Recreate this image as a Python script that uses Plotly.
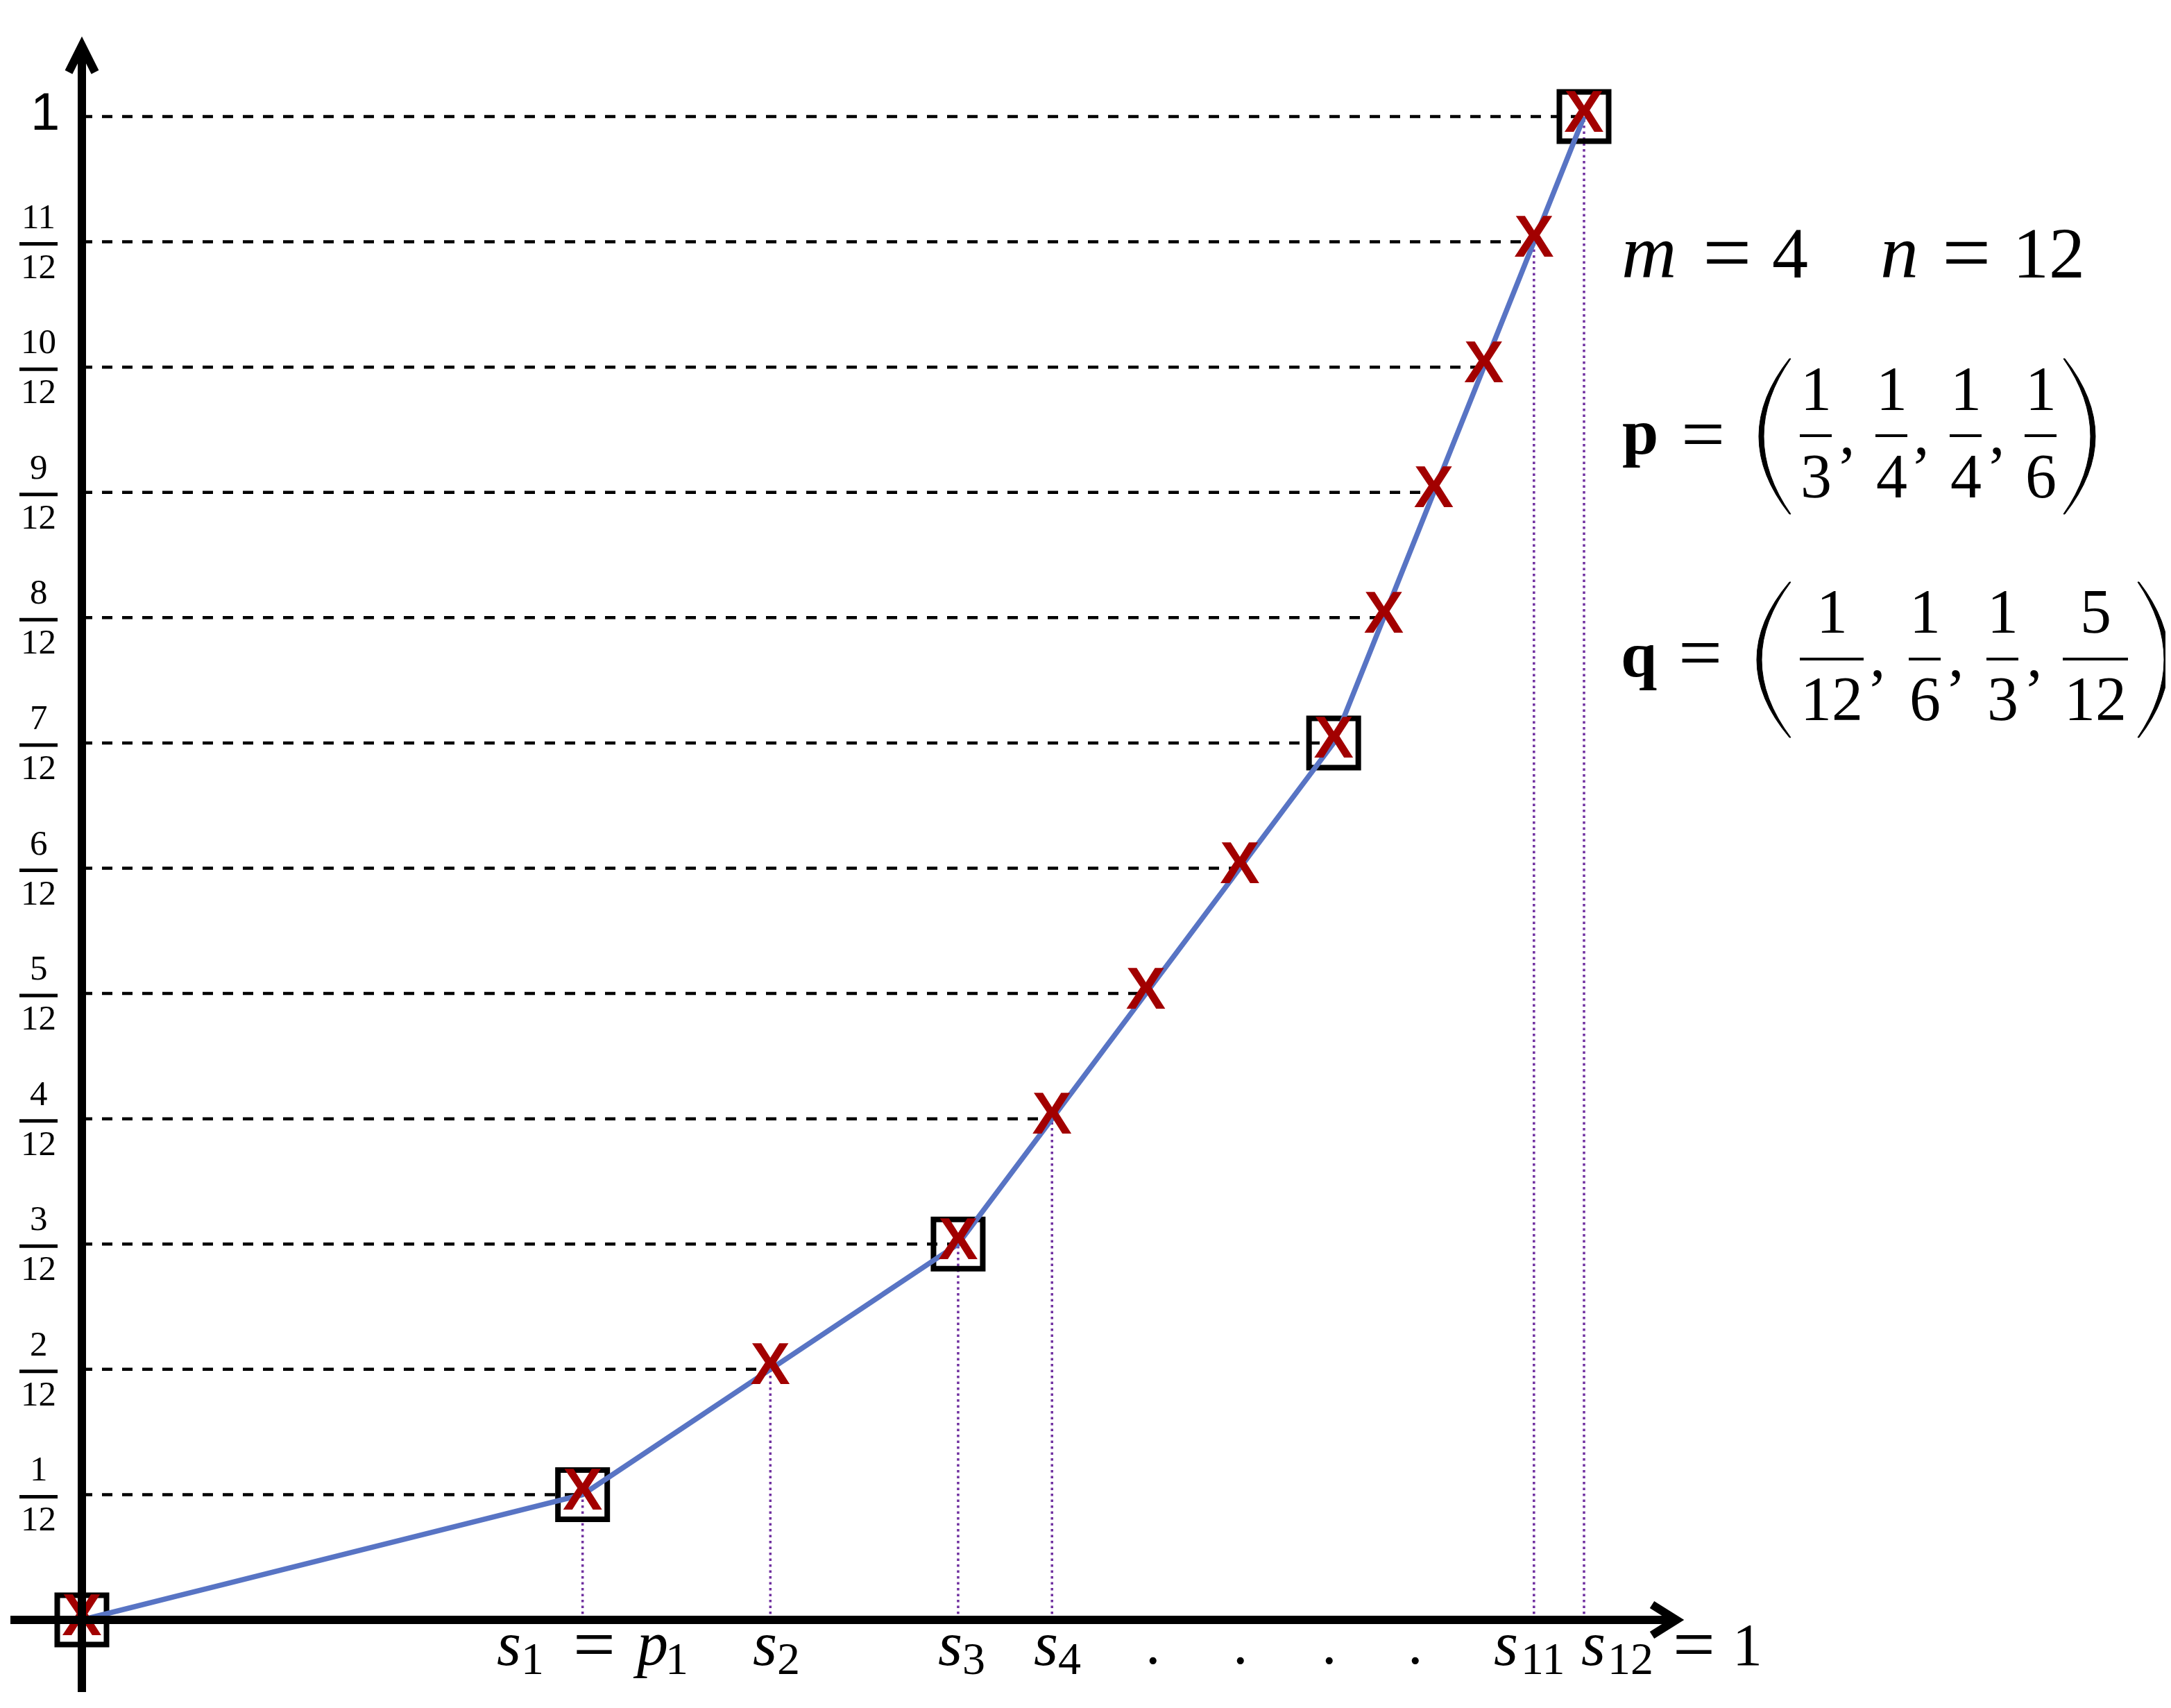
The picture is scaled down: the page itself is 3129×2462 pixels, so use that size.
import plotly.graph_objects as go

# ---------------- data ----------------
break_x = [0, 1/3, 7/12, 5/6, 1]          # cumulative p
break_y = [0, 1/12, 3/12, 7/12, 1]        # cumulative q
levels = [0, 1/12, 2/12, 3/12, 4/12, 5/12, 6/12, 7/12, 8/12, 9/12, 10/12, 11/12, 1]
s_vals = [0, 1/3, 11/24, 7/12, 31/48, 17/24, 37/48, 5/6, 13/15, 9/10, 14/15, 29/30, 1]
dotted_idx = [1, 2, 3, 4, 11, 12]
ytick_num = ["1", "2", "3", "4", "5", "6", "7", "8", "9", "10", "11"]
ytick_den = "12"
ytick_top = "1"
x_label_sub = ["1", "2", "3", "4", "11", "12"]
p_num = ["1", "1", "1", "1"]
p_den = ["3", "4", "4", "6"]
q_num = ["1", "1", "1", "5"]
q_den = ["12", "6", "3", "12"]
m_val, n_val = "4", "12"

# ---------------- pixel mapping (screen pixels of the reference) ----------------
OFF = 8                 # page body margin
WF, HF = 3129 - OFF, 2462 - OFF
X0, SX = 118, 2165      # x=0 -> px 118, 1 unit = 2165 px
Y0, SY = 2335, 2167     # y=0 -> py 2335, 1 unit = 2167 px
def dx(px): return (px - X0) / SX
def dy(py): return (Y0 - py) / SY
def py(y): return Y0 - SY * y

BLUE = "#5874C4"
RED = "#A20000"
PURPLE = "#7030A0"
SERIF = "Liberation Serif"

fig = go.Figure()

# dashed horizontal guides
hx, hy = [], []
for k in range(1, 13):
    hx += [0, s_vals[k], None]
    hy += [levels[k], levels[k], None]
fig.add_trace(go.Scatter(x=hx, y=hy, mode="lines",
                         line=dict(color="black", width=4.5, dash="15px,14px"),
                         hoverinfo="skip"))

# dotted verticals
vx, vy = [], []
for k in dotted_idx:
    vx += [s_vals[k], s_vals[k], None]
    vy += [0, levels[k], None]
fig.add_trace(go.Scatter(x=vx, y=vy, mode="lines",
                         line=dict(color=PURPLE, width=3.5, dash="3.5px,5px"),
                         hoverinfo="skip"))

# boxes at breakpoints
fig.add_trace(go.Scatter(x=break_x, y=break_y, mode="markers",
                         marker=dict(symbol="square-open", size=71, color="black",
                                     line=dict(width=8, color="black")),
                         hoverinfo="skip"))

# curve
fig.add_trace(go.Scatter(x=break_x, y=break_y, mode="lines",
                         line=dict(color=BLUE, width=7.5), hoverinfo="skip"))

# X marks
fig.add_trace(go.Scatter(x=s_vals, y=levels, mode="text", text=["X"] * len(s_vals),
                         textposition="middle center",
                         textfont=dict(family="Liberation Sans", size=86, color=RED, weight="bold"),
                         hoverinfo="skip"))

shapes = []
annotations = []

def line_shape(x0, y0, x1, y1, w, color="black"):
    shapes.append(dict(type="line", xref="x", yref="y", x0=x0, y0=y0, x1=x1, y1=y1,
                       line=dict(color=color, width=w)))

def path_shape(pts, w):
    d = "M " + " L ".join(f"{dx(a):.5f},{dy(b):.5f}" for a, b in pts)
    shapes.append(dict(type="path", xref="x", yref="y", path=d,
                       line=dict(color="black", width=w)))

def txt(s, cx, cy, size, family=SERIF, style="normal", weight="normal"):
    annotations.append(dict(text=s, x=dx(cx), y=dy(cy), xref="x", yref="y",
                            showarrow=False, xanchor="center", yanchor="middle",
                            borderpad=0,
                            font=dict(size=size, family=family, color="black",
                                      style=style, weight=weight)))

def base_txt(s, cx, baseline, size, **kw):
    # place text so that its baseline sits at the given pixel row
    txt(s, cx, baseline - 0.3375 * size, size, **kw)

def eq_txt(cx, glyph_c, size):
    txt("=", cx, glyph_c - 0.0725 * size, size)

# axes
line_shape(0, dy(2439), 0, dy(78), 12)
path_shape([(99, 104), (118, 66), (137, 104)], 12)
line_shape(dx(15), 0, dx(2412), 0, 12)
path_shape([(2381, 2313), (2416, 2335), (2381, 2357)], 12)

# y tick labels (fractions)
for i, num in enumerate(ytick_num):
    k = i + 1
    bar = py(levels[k]) + 3
    shapes.append(dict(type="line", xref="x", yref="y", x0=dx(28), x1=dx(83),
                       y0=dy(bar), y1=dy(bar), line=dict(color="black", width=5)))
    txt(num, 55.5, bar - 40, 51)
    txt(ytick_den, 55.5, bar + 32, 51)
txt(ytick_top, 65, 160, 76, family="Liberation Sans")

# x labels: italic s with upright subscript
S_BASE, SUB_BASE = 2400, 2413
s_centers = [733, 1102, 1369, 1507, 2170, 2296]
sub_centers = [767, 1136, 1403, 1541, 2224, 2350]
for sub, sc, bc in zip(x_label_sub, s_centers, sub_centers):
    base_txt("s", sc, S_BASE, 90, style="italic")
    base_txt(sub, bc, SUB_BASE, 66)
# "= p1"
eq_txt(856, 2377, 108)
base_txt("p", 937, S_BASE, 90, style="italic")
base_txt(x_label_sub[0], 975, SUB_BASE, 66)
# "= 1"
eq_txt(2441, 2377, 108)
base_txt("1", 2518, S_BASE, 86)
# dots
for cx in [1662, 1788, 1916, 2040]:
    base_txt(".", cx, 2398, 86)

# m = 4   n = 12
base_txt("m", 2376, 400, 110, style="italic")
eq_txt(2489, 373, 125)
base_txt(m_val, 2580, 400, 104)
base_txt("n", 2737, 400, 110, style="italic")
eq_txt(2834, 373, 125)
base_txt(n_val, 2953, 400, 104)

def paren(x_end, x_ext, y_top, y_bot, thick=7, end=2):
    sgn = 1 if x_ext < x_end else -1
    ym = (y_top + y_bot) / 2
    c_out = 2 * x_ext - x_end
    xe_in = x_end + sgn * end
    c_in = 2 * (x_ext + sgn * thick) - xe_in
    d = (f"M {dx(x_end):.5f},{dy(y_top):.5f} "
         f"Q {dx(c_out):.5f},{dy(ym):.5f} {dx(x_end):.5f},{dy(y_bot):.5f} "
         f"L {dx(xe_in):.5f},{dy(y_bot):.5f} "
         f"Q {dx(c_in):.5f},{dy(ym):.5f} {dx(xe_in):.5f},{dy(y_top):.5f} Z")
    shapes.append(dict(type="path", xref="x", yref="y", path=d, fillcolor="black",
                       line=dict(color="black", width=1)))

def vector_row(name, name_cx, eq_cx, eq_c, baseline, nums, dens, centers, halfw,
               num_c, den_c, bar_y, commas, lp, rp):
    base_txt(name, name_cx, baseline, 94, weight="bold")
    eq_txt(eq_cx, eq_c, 112)
    for n_, d_, c, hw in zip(nums, dens, centers, halfw):
        txt(n_, c, num_c, 90)
        txt(d_, c, den_c, 90)
        shapes.append(dict(type="line", xref="x", yref="y", x0=dx(c - hw), x1=dx(c + hw),
                           y0=dy(bar_y), y1=dy(bar_y), line=dict(color="black", width=4)))
    for c in commas:
        base_txt(",", c, baseline, 90)
    paren(*lp)
    paren(*rp)

vector_row("p", 2364, 2454, 633, 654, p_num, p_den, [2617, 2726, 2833, 2941], [23, 23, 23, 23],
           560, 686, 628, [2662, 2769, 2878],
           (2579, 2535, 517, 741), (2976, 3020, 517, 741))
vector_row("q", 2362, 2450, 948, 975, q_num, q_den, [2640, 2774, 2886, 3020], [46, 23, 23, 47],
           881, 1007, 950, [2706, 2819, 2932],
           (2579, 2532, 839, 1063), (3083, 3126, 839, 1063))

fig.update_layout(
    width=WF, height=HF, margin=dict(l=0, r=0, t=0, b=0),
    paper_bgcolor="white", plot_bgcolor="white", showlegend=False,
    xaxis=dict(range=[dx(OFF), dx(OFF + WF)], visible=False, fixedrange=True),
    yaxis=dict(range=[dy(OFF + HF), dy(OFF)], visible=False, fixedrange=True),
    shapes=shapes, annotations=annotations,
)
fig.write_html("out.html")
